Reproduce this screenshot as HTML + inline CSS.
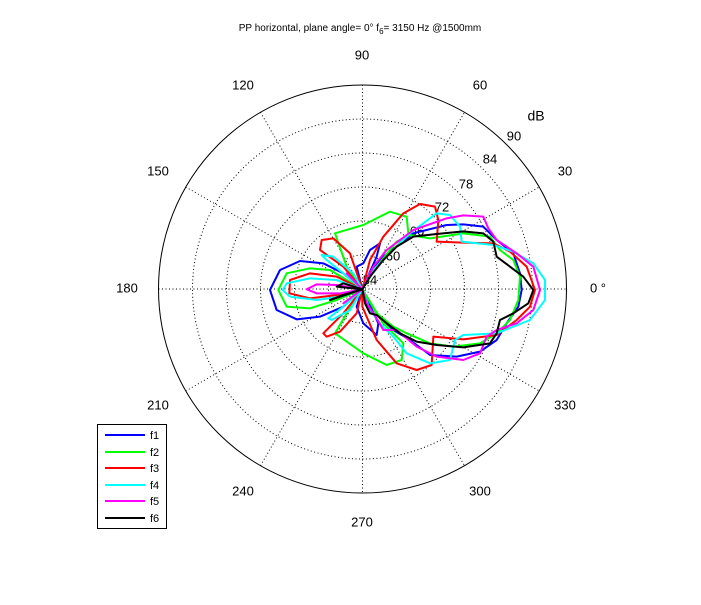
<!DOCTYPE html>
<html><head><meta charset="utf-8"><style>
body{margin:0;background:#fff;width:701px;height:600px;overflow:hidden}
svg text{font-family:"Liberation Sans",sans-serif;fill:#000}
</style></head><body>
<svg width="701" height="600" viewBox="0 0 701 600" xmlns="http://www.w3.org/2000/svg">
<rect width="701" height="600" fill="#fff"/>
<g fill="none" stroke="#000" stroke-width="1" stroke-dasharray="1,2.5">
<circle cx="362.5" cy="289" r="34"/><circle cx="362.5" cy="289" r="68"/><circle cx="362.5" cy="289" r="102"/>
<circle cx="362.5" cy="289" r="136"/><circle cx="362.5" cy="289" r="170"/>
<line x1="158.5" y1="289" x2="566.5" y2="289"/><line x1="362.5" y1="85" x2="362.5" y2="493"/>
<line x1="185.8" y1="187" x2="539.2" y2="391"/><line x1="185.8" y1="391" x2="539.2" y2="187"/>
<line x1="260.5" y1="112.3" x2="464.5" y2="465.7"/><line x1="260.5" y1="465.7" x2="464.5" y2="112.3"/>
</g>
<circle cx="362.5" cy="289" r="204" fill="none" stroke="#000" stroke-width="1"/>
<g font-size="13" text-anchor="middle" dominant-baseline="middle">
<text x="598" y="289">0 °</text><text x="565" y="172">30</text><text x="480" y="86">60</text>
<text x="362" y="56">90</text><text x="243" y="86">120</text><text x="158" y="172">150</text>
<text x="127" y="289">180</text><text x="158" y="406">210</text><text x="243" y="492">240</text>
<text x="362" y="523">270</text><text x="480" y="492">300</text><text x="565" y="406">330</text>
<text x="514" y="137">90</text><text x="490" y="160">84</text><text x="466" y="185">78</text>
<text x="442" y="208">72</text><text x="417" y="232">66</text><text x="393" y="257">60</text><text x="370" y="281">54</text>
<text x="536" y="117" font-size="14">dB</text>
</g>
<text x="360" y="31" font-size="10" text-anchor="middle">PP horizontal, plane angle= 0° f<tspan font-size="8" dy="3">6</tspan><tspan dy="-3">=  3150 Hz @1500mm</tspan></text>
<g transform="translate(130,60) scale(0.33333)" fill="none" stroke-width="2" stroke-linejoin="round">
<g stroke="#0000ff">
<polyline vector-effect="non-scaling-stroke" points="697,688 720,640 760,590 850,520 950,495 1000,493 1060,500 1100,540 1150,580 1170,640 1175,690 1165,740 1130,790 1100,840 1050,875 980,890 900,885 840,840 790,810 740,760 697,688"/>
<polyline vector-effect="non-scaling-stroke" points="697,688 640,640 580,610 510,603 450,630 420,690 440,750 500,778 570,770 640,740 697,688"/>
<polyline vector-effect="non-scaling-stroke" points="697,688 680,620 700,610 720,570 750,550 740,590 697,688 680,740 700,790 740,825 745,790 697,688"/>
</g>
<g stroke="#00ff00">
<polyline vector-effect="non-scaling-stroke" points="697,688 740,620 800,545 840,525 900,535 1000,520 1080,530 1110,570 1150,600 1170,650 1165,720 1140,780 1100,820 1050,850 970,860 900,850 830,820 790,800 740,760 697,688"/>
<polyline vector-effect="non-scaling-stroke" points="697,688 600,630 540,625 470,640 445,690 470,740 540,745 620,720 697,688"/>
<polyline vector-effect="non-scaling-stroke" points="697,688 650,620 615,520 700,495 780,455 830,470 835,520 780,580 720,640 697,688 650,760 615,820 700,880 770,915 815,900 820,850 760,790 697,688"/>
</g>
<g stroke="#ff0000">
<polyline vector-effect="non-scaling-stroke" points="697,688 720,600 760,530 820,460 870,432 915,440 925,480 920,545 1000,548 1090,550 1140,575 1190,620 1215,690 1200,740 1160,780 1100,825 1000,838 910,830 905,915 860,930 800,910 740,840 697,740 697,688"/>
<polyline vector-effect="non-scaling-stroke" points="697,688 620,650 540,640 480,660 478,700 540,715 620,705 697,688"/>
<polyline vector-effect="non-scaling-stroke" points="697,688 640,620 570,570 575,540 610,535 660,580 697,688 640,760 580,820 590,830 630,815 680,760 697,688"/>
</g>
<g stroke="#00ffff">
<polyline vector-effect="non-scaling-stroke" points="697,688 720,640 780,580 840,520 920,460 960,465 990,500 995,545 1090,555 1150,575 1210,610 1245,660 1245,720 1200,780 1150,800 1100,820 1000,825 975,840 960,900 900,910 830,880 790,830 750,790 720,750 697,688"/>
<polyline vector-effect="non-scaling-stroke" points="697,688 620,660 540,655 470,670 458,690 480,710 560,720 630,710 697,688"/>
<polyline vector-effect="non-scaling-stroke" points="697,688 640,640 590,600 575,585 610,590 670,640 697,688 640,740 595,775 605,780 660,750 697,688"/>
</g>
<g stroke="#ff00ff">
<polyline vector-effect="non-scaling-stroke" points="697,688 730,620 770,570 850,510 950,475 1000,466 1060,470 1075,505 1100,540 1160,580 1210,620 1230,690 1210,750 1160,790 1100,810 1070,830 1050,880 1000,900 920,890 860,860 800,810 760,810 740,775 710,730 697,688"/>
<polyline vector-effect="non-scaling-stroke" points="697,688 620,675 560,673 530,688 560,700 630,700 697,688 640,730 697,688 650,640 697,688"/>
</g>
<g stroke="#000">
<polyline vector-effect="non-scaling-stroke" points="697,688 720,650 760,600 800,560 850,530 920,522 1000,514 1060,520 1090,545 1100,590 1140,620 1180,650 1210,690 1195,730 1150,760 1110,780 1100,820 1080,850 1000,862 920,855 860,845 810,820 770,790 740,765 720,760 705,730 697,688"/>
<polyline vector-effect="non-scaling-stroke" points="697,688 620,680 640,670 697,688 600,720 640,705 697,688"/>
</g>
</g>
<rect x="97.5" y="424.5" width="69" height="104" fill="#fff" stroke="#000"/>
<g stroke-width="2">
<line x1="105" y1="435" x2="145" y2="435" stroke="#0000ff"/><line x1="105" y1="452" x2="145" y2="452" stroke="#00ff00"/>
<line x1="105" y1="468" x2="145" y2="468" stroke="#ff0000"/><line x1="105" y1="485" x2="145" y2="485" stroke="#00ffff"/>
<line x1="105" y1="501" x2="145" y2="501" stroke="#ff00ff"/><line x1="105" y1="518" x2="145" y2="518" stroke="#000"/>
</g>
<g font-size="11" dominant-baseline="middle">
<text x="150" y="436">f1</text><text x="150" y="453">f2</text><text x="150" y="469">f3</text>
<text x="150" y="486">f4</text><text x="150" y="502">f5</text><text x="150" y="519">f6</text>
</g>
</svg>
</body></html>
